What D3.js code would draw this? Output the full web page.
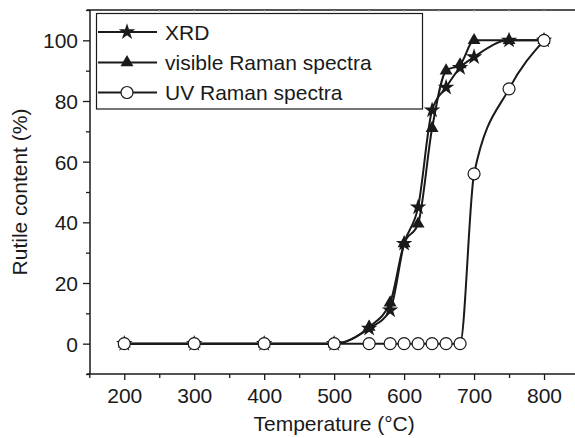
<!DOCTYPE html>
<html>
<head>
<meta charset="utf-8">
<script src="https://cdn.jsdelivr.net/npm/d3@7"></script>
<style>
  html, body { margin: 0; padding: 0; background: #fff; }
  svg { display: block; }
  text { font-family: "Liberation Sans", Arial, Helvetica, sans-serif; fill: #1a1a1a; }
</style>
</head>
<body>
<svg id="chart" width="575" height="438"></svg>
<script>
// Calcination temperature (°C) and rutile fraction (%) from three techniques
const xrdTemps     = [200, 300, 400, 500, 550, 580, 600, 620, 640, 660, 680, 700, 750, 800];
const xrdValues    = [0, 0, 0, 0, 5, 11, 33, 45, 77, 84.5, 91, 94.5, 100, 100];
const visTemps     = [200, 300, 400, 500, 550, 580, 600, 620, 640, 660, 680, 700, 750, 800];
const visValues    = [0, 0, 0, 0, 5.5, 13.5, 33, 39.5, 71, 90, 92, 100, 100, 100];
const uvTemps      = [200, 300, 400, 500, 550, 580, 600, 620, 640, 660, 680, 700, 750, 800];
const uvValues     = [0, 0, 0, 0, 0, 0, 0, 0, 0, 0, 0, 56, 84, 100];
const seriesNames  = ["XRD", "visible Raman spectra", "UV Raman spectra"];
const xTickValues  = [200, 300, 400, 500, 600, 700, 800];
const yTickValues  = [0, 20, 40, 60, 80, 100];

const svg = d3.select("#chart");
const plotLeft = 90, plotTop = 10, plotBottom = 374, plotRight = 579;
const fontPx = "21px";

const x = d3.scaleLinear().domain([150, 850]).range([plotLeft - 0.7, plotRight]);
const y = d3.scaleLinear().domain([-10, 110]).range([plotBottom, plotTop]);

const ink = "#1a1a1a";

// ---- axes ----
const xMinor = d3.range(150, 851, 50).filter(v => !xTickValues.includes(v));
const yMinor = d3.range(-10, 111, 10).filter(v => !yTickValues.includes(v));

const gx = svg.append("g").attr("transform", `translate(0,${plotBottom})`)
  .call(d3.axisBottom(x).tickValues(xTickValues).tickSize(6).tickSizeOuter(0).tickPadding(8));
const gxm = svg.append("g").attr("transform", `translate(0,${plotBottom})`)
  .call(d3.axisBottom(x).tickValues(xMinor).tickSize(4).tickSizeOuter(0).tickFormat(""));
const gy = svg.append("g").attr("transform", `translate(${plotLeft},0)`)
  .call(d3.axisLeft(y).tickValues(yTickValues).tickSize(7).tickSizeOuter(0).tickPadding(5));
const gym = svg.append("g").attr("transform", `translate(${plotLeft},0)`)
  .call(d3.axisLeft(y).tickValues(yMinor).tickSize(4).tickSizeOuter(0).tickFormat(""));

[gx, gxm, gy, gym].forEach(g => {
  g.selectAll("path.domain").remove();
  g.selectAll(".tick line").attr("stroke", ink).attr("stroke-width", 1.3);
  g.selectAll(".tick text").style("font-size", fontPx).attr("fill", ink);
});
gy.selectAll(".tick text").attr("dy", "0.35em");

// frame lines: left axis, bottom axis, top border
svg.append("line").attr("x1", plotLeft).attr("x2", plotLeft).attr("y1", plotTop).attr("y2", plotBottom)
  .attr("stroke", ink).attr("stroke-width", 1.5);
svg.append("line").attr("x1", plotLeft - 3).attr("x2", plotRight).attr("y1", plotBottom).attr("y2", plotBottom)
  .attr("stroke", ink).attr("stroke-width", 1.5);
svg.append("line").attr("x1", plotLeft - 3).attr("x2", plotRight).attr("y1", plotTop).attr("y2", plotTop)
  .attr("stroke", ink).attr("stroke-width", 1.5);
// faint ticks along the top border
svg.append("g").selectAll("line").data(d3.range(200, 851, 50)).join("line")
  .attr("x1", d => x(d)).attr("x2", d => x(d)).attr("y1", plotTop).attr("y2", plotTop + 2)
  .attr("stroke", "#bbb").attr("stroke-width", 1);

// axis titles
svg.append("text").attr("x", (x.range()[0] + x.range()[1]) / 2).attr("y", 431)
  .attr("text-anchor", "middle").style("font-size", fontPx).text("Temperature (°C)");
svg.append("text").attr("transform", `translate(27,${y(50)}) rotate(-90)`)
  .attr("text-anchor", "middle").style("font-size", fontPx).text("Rutile content (%)");

// ---- curves ----
const line = d3.line().x(d => x(d[0])).y(d => y(d[1])).curve(d3.curveMonotoneX);
const xrd = d3.zip(xrdTemps, xrdValues);
const vis = d3.zip(visTemps, visValues);
const uv  = d3.zip(uvTemps, uvValues);

[uv, vis, xrd].forEach(s => {
  svg.append("path").datum(s).attr("d", line)
    .attr("fill", "none").attr("stroke", ink).attr("stroke-width", 2);
});

// ---- markers ----
const star = d3.symbol().type(d3.symbolStar).size(85);
const tri  = d3.symbol().type(d3.symbolTriangle).size(72);

svg.append("g").selectAll("path").data(xrd).join("path")
  .attr("d", star).attr("transform", d => `translate(${x(d[0])},${y(d[1])})`)
  .attr("fill", ink);
svg.append("g").selectAll("path").data(vis).join("path")
  .attr("d", tri).attr("transform", d => `translate(${x(d[0])},${y(d[1])})`)
  .attr("fill", ink);
svg.append("g").selectAll("circle").data(uv).join("circle")
  .attr("cx", d => x(d[0])).attr("cy", d => y(d[1])).attr("r", 6)
  .attr("fill", "#fff").attr("stroke", ink).attr("stroke-width", 1.2);

// ---- legend ----
const lg = svg.append("g");
lg.append("rect").attr("x", 96.5).attr("y", 13.5).attr("width", 326).attr("height", 95.5)
  .attr("fill", "#fff").attr("stroke", ink).attr("stroke-width", 1.2);
const rowY = [32, 62.5, 92.5];
const markerMakers = [
  g => g.append("path").attr("d", star).attr("fill", ink),
  g => g.append("path").attr("d", tri).attr("fill", ink),
  g => g.append("circle").attr("r", 6).attr("fill", "#fff").attr("stroke", ink).attr("stroke-width", 1.2)
];
seriesNames.forEach((name, i) => {
  const row = lg.append("g").attr("transform", `translate(0,${rowY[i]})`);
  row.append("line").attr("x1", 98).attr("x2", 157).attr("y1", 0).attr("y2", 0)
    .attr("stroke", ink).attr("stroke-width", 2);
  markerMakers[i](row.append("g").attr("transform", "translate(127,0)"));
  row.append("text").attr("x", 165).attr("y", 0).attr("dy", "0.36em")
    .style("font-size", fontPx).text(name);
});
</script>
</body>
</html>
